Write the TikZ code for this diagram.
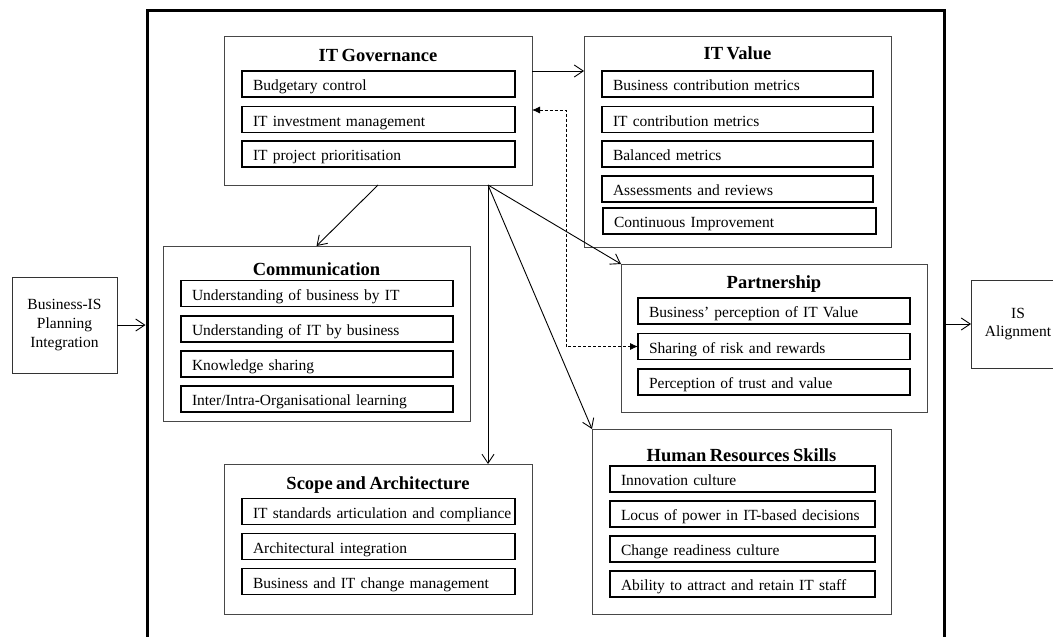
\documentclass[tikz,border=0pt]{standalone}
\usepackage{fontspec}
\setmainfont{Liberation Serif}[WordSpace=0.75]
\usetikzlibrary{arrows.meta,calc}
\begin{document}
\begin{tikzpicture}[x=1pt,y=-1pt,
  container/.style={draw=black!72, line width=0.9pt, inner sep=0pt, outer sep=0pt},
  item/.style={draw=black, line width=1.1pt, anchor=west, inner xsep=11pt, inner ysep=0pt,
    outer sep=0pt, minimum height=26pt, align=left,
    font=\fontsize{15.5}{18}\selectfont,
    execute at begin node={\hyphenpenalty=10000\relax},
    text height=14pt, text depth=1pt},
  ttl/.style={anchor=base, inner sep=0pt, font=\bfseries\fontsize{18.5}{22}\selectfont},
  sidebox/.style={draw=black!80, line width=0.9pt, inner sep=0pt, outer sep=0pt, align=center,
    font=\fontsize{15.5}{18.7}\selectfont},
  link/.style={line width=0.9pt, -{Straight Barb[length=9pt,width=12pt]}},
  dlink/.style={line width=0.8pt, dash pattern=on 3pt off 2pt,
    {Latex[length=8pt,width=7pt]}-{Latex[length=8pt,width=7pt]}},
]
\useasboundingbox (0,0) rectangle (1053,637);
\clip (0,0) rectangle (1053,637);

% outer frame around the alignment factors
\node[draw=black, line width=3pt, inner sep=0pt, outer sep=0pt,
      minimum width=797pt, minimum height=650pt] (frame) at (545.5,335) {};

% IT Governance
\node[container, minimum width=308pt, minimum height=149pt] (gov) at (378,110.5) {};
\node[ttl] (govt) at (378,61) {IT Governance};
\begin{scope}[every node/.append style={text width=251pt}]
  \node[item] (g1) at (242,84) {Budgetary control};
  \node[item] (g2) at (242,119.5) {IT investment management};
  \node[item] (g3) at (242,154) {IT project prioritisation};
\end{scope}

% IT Value
\node[container, minimum width=307pt, minimum height=211pt] (val) at (737.5,141.5) {};
\node[ttl] (valt) at (737.5,59) {IT Value};
\begin{scope}[every node/.append style={text width=249pt}]
  \node[item] (v1) at (602,84) {Business contribution metrics};
  \node[item] (v2) at (602,119.5) {IT contribution metrics};
  \node[item] (v3) at (602,154) {Balanced metrics};
  \node[item] (v4) at (602,189) {Assessments and reviews};
\end{scope}
\node[item, text width=251pt] (v5) at (603,221) {Continuous Improvement};

% Communication
\node[container, minimum width=307pt, minimum height=175pt] (comm) at (316.5,333.5) {};
\node[ttl] (commt) at (316.5,275) {Communication};
\begin{scope}[every node/.append style={text width=250pt}]
  \node[item] (c1) at (181,293.5) {Understanding of business by IT};
  \node[item] (c2) at (181,329) {Understanding of IT by business};
  \node[item] (c3) at (181,364) {Knowledge sharing};
  \node[item] (c4) at (181,399) {Inter/Intra-Organisational learning};
\end{scope}

% Partnership
\node[container, minimum width=306pt, minimum height=148pt] (part) at (774,338) {};
\node[ttl] (partt) at (774,288) {Partnership};
\begin{scope}[every node/.append style={text width=250pt}]
  \node[item] (p1) at (638,311) {Business' perception of IT Value};
  \node[item] (p2) at (638,346.5) {Sharing of risk and rewards};
  \node[item] (p3) at (638,382) {Perception of trust and value};
\end{scope}

% Scope and Architecture
\node[container, minimum width=308pt, minimum height=150pt] (scope) at (378,539) {};
\node[ttl] (scopet) at (378,489) {Scope and Architecture};
\begin{scope}[every node/.append style={text width=251pt}]
  \node[item] (s1) at (242,511.5) {\mbox{IT standards articulation and compliance}};
  \node[item] (s2) at (242,546.5) {Architectural integration};
  \node[item] (s3) at (242,581.5) {Business and IT change management};
\end{scope}

% Human Resources Skills
\node[container, minimum width=299pt, minimum height=185pt] (hr) at (741.5,521.5) {};
\node[ttl] (hrt) at (741.5,461) {Human Resources Skills};
\begin{scope}[every node/.append style={text width=243pt}]
  \node[item] (h1) at (610,479) {Innovation culture};
  \node[item] (h2) at (610,514) {Locus of power in IT-based decisions};
  \node[item] (h3) at (610,549) {Change readiness culture};
  \node[item] (h4) at (610,584) {Ability to attract and retain IT staff};
\end{scope}

% input and outcome
\node[sidebox, minimum width=105pt, minimum height=96pt] (bis) at (64.5,325)
  {Business-IS\\Planning\\Integration};
\node[sidebox, minimum width=94pt, minimum height=88pt, text width=88pt] (isa) at (1018,324)
  {IS\\Alignment};

% connectors
\coordinate (hub) at (488,185);
\coordinate (y71) at (0,71);
\coordinate (dk) at (566,110);
\draw[link] (gov.east |- y71) -- (val.west |- y71);
\draw[link] (gov.south) -- (comm.north);
\draw[link] (hub) -- (hub |- scope.north);
\draw[link] (hub) -- (hr.north west);
\draw[link] (hub) -- (part.north west);
\draw[dlink] (dk -| gov.east) -- (dk) |- (p2.west);
\draw[link] (bis.east) -- ($(bis.east -| frame.west)+(-1.5,0)$);
\draw[link] (frame.east |- isa.west) -- (isa.west);
\end{tikzpicture}
\end{document}
